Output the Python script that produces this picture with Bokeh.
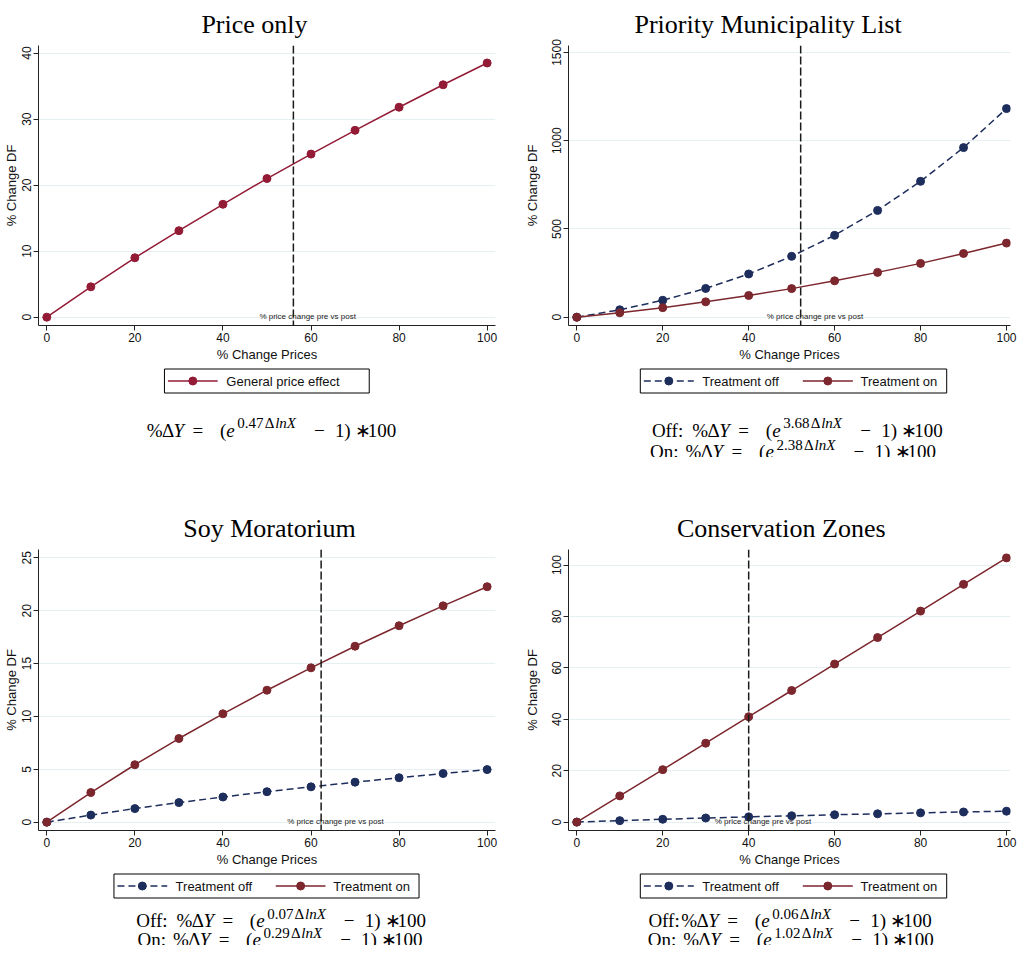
from bokeh.plotting import figure
from bokeh.models import Range1d, FixedTicker, Span, Label
from bokeh.layouts import column, row
from bokeh.core.properties import value
from bokeh.embed import file_html
from bokeh.resources import INLINE

# ---------------- data ----------------
x_pct = [0, 10, 20, 30, 40, 50, 60, 70, 80, 90, 100]

price_only = [0, 4.6, 9.0, 13.1, 17.1, 21.0, 24.7, 28.3, 31.8, 35.2, 38.5]

pml_off = [0, 42, 96, 163, 245, 345, 464, 605, 770, 961, 1182]
pml_on = [0, 25, 54, 87, 123, 162, 206, 254, 305, 361, 420]

soy_off = [0, 0.67, 1.28, 1.85, 2.38, 2.88, 3.34, 3.78, 4.20, 4.60, 4.97]
soy_on = [0, 2.80, 5.43, 7.91, 10.25, 12.48, 14.60, 16.64, 18.58, 20.46, 22.27]

cz_off = [0, 0.57, 1.10, 1.59, 2.04, 2.46, 2.86, 3.23, 3.59, 3.93, 4.25]
cz_on = [0, 10.2, 20.4, 30.7, 41.0, 51.2, 61.5, 71.8, 82.1, 92.5, 102.8]

vline_price = 56.0
vline_pml = 52.1
vline_soy = 62.3
vline_cz = 40.0

x_ticks = [0, 20, 40, 60, 80, 100]
y_ticks_price = [0, 10, 20, 30, 40]
y_ticks_pml = [0, 500, 1000, 1500]
y_ticks_soy = [0, 5, 10, 15, 20, 25]
y_ticks_cz = [0, 20, 40, 60, 80, 100]

titles = ["Price only", "Priority Municipality List", "Soy Moratorium", "Conservation Zones"]
legend_single = ["General price effect"]
legend_pair = ["Treatment off", "Treatment on"]
coef_price = "0.47"
coef_pml = ("3.68", "2.38")
coef_soy = ("0.07", "0.29")
coef_cz = ("0.06", "1.02")

C_PRICE = "#931b36"
C_ON = "#7c262d"
C_OFF = "#1d2d5c"
DASH_OFF = "7 4"
GRID = "#e6eff1"
SANS = "Liberation Sans"
SERIF = "Liberation Serif"


def make_plot(title, bl, br, bt, fw, fh, bb, xr, yr, yticks, title_left, ylab_standoff):
    p = figure(frame_width=fw, frame_height=fh, x_range=Range1d(*xr), y_range=Range1d(*yr),
               output_backend="svg", toolbar_location=None, title=title,
               min_border_left=bl, min_border_right=br, min_border_top=bt,
               min_border_bottom=bb)
    p.title.text_font = SERIF
    p.title.text_font_size = "26px"
    p.title.text_font_style = "normal"
    p.title.text_color = "black"
    p.title.align = "left"
    p.title.offset = title_left
    p.title.standoff = 14
    p.outline_line_color = None
    p.background_fill_color = "white"
    p.border_fill_color = "white"
    p.xgrid.visible = False
    p.ygrid.grid_line_color = GRID
    p.ygrid.grid_line_width = 1
    p.ygrid.ticker = FixedTicker(ticks=yticks)

    p.xaxis.ticker = FixedTicker(ticks=x_ticks)
    p.yaxis.ticker = FixedTicker(ticks=yticks)
    for ax in (p.xaxis[0], p.yaxis[0]):
        ax.axis_line_color = "#222222"
        ax.axis_line_width = 1
        ax.major_tick_line_color = "#222222"
        ax.major_tick_out = 5
        ax.major_tick_in = 0
        ax.minor_tick_line_color = None
        ax.major_label_text_font = SANS
        ax.major_label_text_font_size = "12px"
        ax.major_label_text_color = "#111111"
        ax.axis_label_text_font = SANS
        ax.axis_label_text_font_size = "13px"
        ax.axis_label_text_font_style = "normal"
        ax.axis_label_text_color = "#111111"
        ax.major_label_standoff = 2
    p.xaxis.axis_label = "% Change Prices"
    p.xaxis.axis_label_standoff = 2
    p.yaxis.axis_label = "% Change DF"
    p.yaxis.axis_label_standoff = ylab_standoff
    p.yaxis.major_label_orientation = "vertical"
    return p


def add_vline(p, loc):
    p.add_layout(Span(location=loc, dimension="height", line_color="#1a1a1a",
                      line_width=1.5, line_dash="8 3"))
    p.add_layout(Label(x=loc, y=0, x_offset=-34, y_offset=1,
                       text="% price change pre vs post", text_font=SANS,
                       text_font_size="8px", text_color="#222222",
                       text_baseline="middle", text_align="left"))


def add_series(p, ys, color, dash):
    p.line(x_pct, ys, line_color=color, line_width=1.5, line_dash=dash)
    p.scatter(x_pct, ys, marker="circle", size=8, fill_color=color, line_color=color)


def make_text_fig(W, H, bl, br, page_left, page_top):
    # in a column Bokeh aligns this figure's frame with the plot above it,
    # so the ranges are expressed in page pixels of that frame
    f = figure(width=W, height=H,
               x_range=Range1d(page_left + bl, page_left + W - br),
               y_range=Range1d(page_top + H, page_top),
               output_backend="svg", toolbar_location=None,
               x_axis_type=None, y_axis_type=None,
               min_border_left=bl, min_border_right=br, min_border_top=0,
               min_border_bottom=0)
    f.grid.visible = False
    f.outline_line_color = None
    f.background_fill_color = "white"
    f.border_fill_color = "white"
    return f


def draw_legend(f, box_left, box_top, box_w, entries):
    """entries: list of (label, color, dash, glyph_left_rel, label_left_rel)"""
    l = box_left
    t = box_top
    f.quad(left=[l + 0.5], right=[l + box_w + 0.5], top=[t + 0.5], bottom=[t + 24.5],
           fill_color="white", line_color="black", line_width=1)
    yc = t + 12.5
    for lab, color, dash, gx, lx in entries:
        f.line([l + gx, l + gx + 50], [yc, yc], line_color=color, line_width=1.5,
               line_dash=dash)
        f.scatter([l + gx + 25], [yc], marker="circle", size=8, fill_color=color,
                  line_color=color)
        f.text(x=[l + lx], y=[yc], text=[lab], text_font=value(SANS),
               text_font_size="13px", text_color="#111111",
               text_baseline="middle", text_align="left")


BASE = "19px"
SUP = "15px"
PIECES = [  # text, rel x, superscript?, italic?
    ("%", 0, False, False), ("Δ", 15.3, False, False), ("Y", 27, False, True),
    ("=", 46, False, False), ("(", 73.5, False, False), ("e", 80, False, True),
    ("0.47", 91, True, False), ("Δ", 118.5, True, False), ("lnX", 129, True, True),
    ("−", 168, False, False), ("1", 189, False, False), (")", 198.5, False, False),
    ("∗", 209, False, False), ("100", 222, False, False),
]


def formula(f, px, cy, coef, prefix=None, gap=8):
    yb = cy + 5
    ys = yb - 7
    for txt, rx, sup, it in PIECES:
        if txt == "0.47":
            txt = coef
        f.text(x=[px + rx], y=[ys if sup else yb], text=[txt], text_font=value(SERIF),
               text_font_size=SUP if sup else BASE,
               text_font_style="italic" if it else "normal",
               text_color="black", text_baseline="alphabetic", text_align="left")
    if prefix:
        f.text(x=[px - gap], y=[yb], text=[prefix], text_font=value(SERIF),
               text_font_size=BASE, text_color="black",
               text_baseline="alphabetic", text_align="right")


# geometry (page pixels)
LW, RW = 518, 502
L_BL, L_BR = 36, 25
R_BL, R_BR = 48, 12          # room on the right for the "100" tick label
L_FW, R_FW = LW - L_BL - L_BR, RW - R_BL - R_BR   # 457, 442
L_XR = (-1.885, 101.9)
R_XR = (-1.93, 100.93)
TOP_PLOT_H = 44 + 280 + 42          # page 8 -> 374
TOP_TEXT_T = 8 + TOP_PLOT_H         # 374
BOT_PLOT_T = 464
TOP_TEXT_H = BOT_PLOT_T - TOP_TEXT_T   # 90
BOT_TOP_BORDER = 92
BOT_PLOT_H = BOT_TOP_BORDER + 281 + 42  # 464 -> 879
BOT_TEXT_T = BOT_PLOT_T + BOT_PLOT_H
BOT_TEXT_H = 952 - BOT_TEXT_T
BOT_LEG_T = BOT_TEXT_T + 1

pair_entries = lambda: [(legend_pair[0], C_OFF, DASH_OFF, 4, 62.4),
                        (legend_pair[1], C_ON, "solid", 163, 220.7)]

# ---- top-left
p1 = make_plot(titles[0], L_BL, L_BR, 44, L_FW, 280, 42, L_XR, (-1.26, 41.15), y_ticks_price, 162.9, 1)
add_vline(p1, vline_price)
add_series(p1, price_only, C_PRICE, "solid")
f1 = make_text_fig(LW, TOP_TEXT_H, L_BL, L_BR, 8, TOP_TEXT_T)
draw_legend(f1, 170, 375, 205.7, [(legend_single[0], C_PRICE, "solid", 4, 62.7)])
formula(f1, 152.7, 431.7, coef_price)

# ---- top-right
p2 = make_plot(titles[1], R_BL, R_BR, 44, R_FW, 280, 42, R_XR, (-47, 1539.6), y_ticks_pml, 66.0, 10)
add_vline(p2, vline_pml)
add_series(p2, pml_off, C_OFF, DASH_OFF)
add_series(p2, pml_on, C_ON, "solid")
f2 = make_text_fig(RW, TOP_TEXT_H, R_BL, R_BR, 526, TOP_TEXT_T)
draw_legend(f2, 645.3, 375, 306.4, pair_entries())
formula(f2, 697.7, 431.7, coef_pml[0], "Off:", 9)
formula(f2, 691.0, 453.0, coef_pml[1], "On:", 7)

# ---- bottom-left
p3 = make_plot(titles[2], L_BL, L_BR, BOT_TOP_BORDER, L_FW, 281, 42, L_XR, (-0.79, 25.79), y_ticks_soy, 144.7, 1)
add_vline(p3, vline_soy)
add_series(p3, soy_off, C_OFF, DASH_OFF)
add_series(p3, soy_on, C_ON, "solid")
f3 = make_text_fig(LW, BOT_TEXT_H, L_BL, L_BR, 8, BOT_TEXT_T)
draw_legend(f3, 119.3, BOT_LEG_T, 306.4, pair_entries())
formula(f3, 182.7, BOT_LEG_T + 42, coef_soy[0], "Off:", 9)
formula(f3, 179.0, BOT_LEG_T + 61, coef_soy[1], "On:", 7)

# ---- bottom-right
p4 = make_plot(titles[3], R_BL, R_BR, BOT_TOP_BORDER, R_FW, 281, 42, R_XR, (-3.27, 106.07), y_ticks_cz, 108.4, 10)
add_vline(p4, vline_cz)
add_series(p4, cz_off, C_OFF, DASH_OFF)
add_series(p4, cz_on, C_ON, "solid")
f4 = make_text_fig(RW, BOT_TEXT_H, R_BL, R_BR, 526, BOT_TEXT_T)
draw_legend(f4, 645.3, BOT_LEG_T, 306.4, pair_entries())
formula(f4, 686.7, BOT_LEG_T + 42, coef_cz[0], "Off:", 1.5)
formula(f4, 688.7, BOT_LEG_T + 61, coef_cz[1], "On:", 7)

layout = column(row(column(p1, f1), column(p2, f2)),
                row(column(p3, f3), column(p4, f4)))

open("out.html", "w").write(file_html(layout, INLINE))
